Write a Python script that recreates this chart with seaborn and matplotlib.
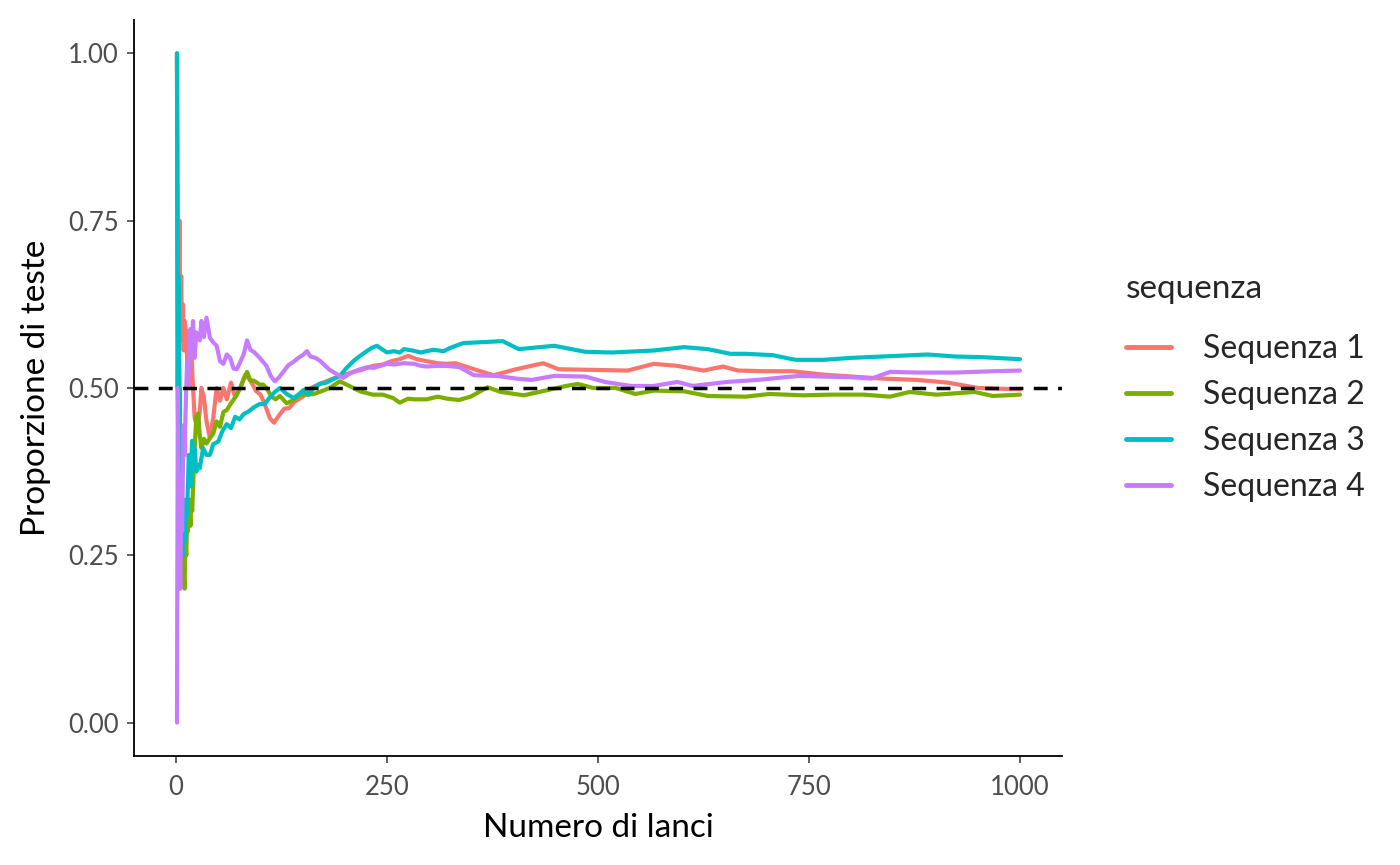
import pandas as pd
import matplotlib
matplotlib.use("Agg")
import matplotlib.pyplot as plt
import seaborn as sns

# Valori (proporzione cumulata di teste)
x_seq1 = [1, 2, 3, 4, 5, 6, 7, 8, 9, 10, 12, 14, 16, 18, 20, 22, 25, 28, 30, 33,
          36, 40, 44, 48, 52, 56, 60, 65, 70, 76, 82, 88, 95, 100, 105, 111, 116, 122, 128, 134,
          140, 150, 160, 170, 180, 190, 200, 210, 220, 233, 245, 255, 265, 275, 285, 297, 310, 320, 331, 353,
          376, 403, 435, 453, 494, 535, 566, 594, 625, 648, 666, 698, 730, 766, 801, 837, 878, 914, 950, 972,
          1000]
p_seq1 = [1.0, 0.5, 0.667, 0.75, 0.6, 0.667, 0.571, 0.625, 0.556, 0.6, 0.583, 0.5, 0.5, 0.556, 0.5, 0.455, 0.44, 0.464, 0.5, 0.485,
          0.45, 0.425, 0.455, 0.5, 0.481, 0.5, 0.483, 0.508, 0.486, 0.5, 0.52, 0.511, 0.495, 0.49, 0.476, 0.455, 0.448, 0.459, 0.469, 0.47,
          0.479, 0.487, 0.5, 0.506, 0.511, 0.516, 0.52, 0.524, 0.527, 0.533, 0.535, 0.54, 0.543, 0.548, 0.543, 0.54, 0.537, 0.536, 0.537, 0.528,
          0.519, 0.528, 0.537, 0.528, 0.527, 0.526, 0.536, 0.533, 0.526, 0.532, 0.526, 0.525, 0.525, 0.52, 0.517, 0.514, 0.512, 0.508, 0.5, 0.499,
          0.498]

x_seq2 = [1, 2, 3, 4, 5, 6, 7, 8, 9, 10, 11, 12, 13, 14, 15, 16, 17, 18, 19, 20,
          21, 22, 23, 24, 25, 26, 28, 30, 33, 36, 40, 44, 48, 52, 56, 60, 65, 70, 76, 80,
          84, 88, 92, 99, 103, 107, 113, 118, 123, 131, 139, 147, 155, 163, 170, 182, 194, 202, 210, 218,
          233, 245, 257, 265, 275, 282, 297, 310, 321, 335, 349, 369, 385, 412, 430, 462, 476, 494, 521, 544,
          566, 602, 630, 675, 703, 743, 775, 815, 846, 869, 901, 946, 968, 1000]
p_seq2 = [1.0, 0.5, 0.333, 0.5, 0.4, 0.333, 0.286, 0.25, 0.222, 0.2, 0.273, 0.25, 0.308, 0.286, 0.333, 0.313, 0.294, 0.333, 0.316, 0.35,
          0.381, 0.409, 0.435, 0.458, 0.44, 0.462, 0.429, 0.41, 0.424, 0.417, 0.425, 0.432, 0.45, 0.442, 0.464, 0.467, 0.477, 0.486, 0.5, 0.513,
          0.524, 0.511, 0.511, 0.505, 0.505, 0.5, 0.487, 0.483, 0.488, 0.477, 0.482, 0.49, 0.49, 0.491, 0.494, 0.5, 0.51, 0.505, 0.5, 0.495,
          0.49, 0.49, 0.485, 0.478, 0.484, 0.483, 0.483, 0.487, 0.484, 0.482, 0.487, 0.501, 0.494, 0.489, 0.494, 0.503, 0.506, 0.5, 0.5, 0.491,
          0.496, 0.495, 0.488, 0.487, 0.491, 0.489, 0.49, 0.49, 0.487, 0.494, 0.49, 0.494, 0.488, 0.49]

x_seq3 = [1, 2, 3, 4, 5, 6, 7, 8, 9, 10, 11, 12, 13, 14, 15, 16, 17, 18, 19, 20,
          22, 24, 26, 28, 32, 36, 40, 44, 50, 55, 60, 65, 70, 75, 80, 86, 92, 99, 105, 111,
          117, 123, 130, 139, 145, 151, 157, 163, 170, 178, 186, 194, 202, 210, 218, 226, 232, 238, 245, 250,
          258, 265, 270, 280, 290, 297, 305, 317, 325, 340, 387, 406, 448, 485, 517, 566, 602, 630, 657, 675,
          707, 734, 766, 801, 837, 891, 923, 955, 1000]
p_seq3 = [1.0, 0.5, 0.667, 0.5, 0.4, 0.333, 0.286, 0.25, 0.333, 0.3, 0.273, 0.333, 0.308, 0.357, 0.4, 0.375, 0.353, 0.389, 0.421, 0.4,
          0.409, 0.375, 0.385, 0.38, 0.41, 0.4, 0.4, 0.416, 0.42, 0.436, 0.446, 0.44, 0.457, 0.453, 0.461, 0.465, 0.471, 0.476, 0.476, 0.486,
          0.494, 0.5, 0.492, 0.485, 0.49, 0.497, 0.49, 0.5, 0.506, 0.508, 0.513, 0.518, 0.53, 0.54, 0.548, 0.555, 0.56, 0.563, 0.557, 0.553,
          0.555, 0.553, 0.558, 0.556, 0.553, 0.555, 0.557, 0.555, 0.56, 0.567, 0.57, 0.558, 0.563, 0.554, 0.553, 0.556, 0.561, 0.558, 0.551, 0.551,
          0.549, 0.542, 0.542, 0.545, 0.547, 0.55, 0.547, 0.546, 0.543]

x_seq4 = [1, 2, 3, 4, 5, 6, 7, 8, 9, 10, 11, 12, 13, 14, 15, 16, 17, 18, 19, 20,
          21, 22, 23, 24, 26, 28, 30, 33, 36, 40, 44, 48, 52, 56, 60, 64, 68, 72, 76, 80,
          84, 88, 92, 99, 107, 112, 117, 122, 127, 133, 139, 145, 151, 155, 159, 165, 170, 176, 182, 190,
          198, 204, 210, 218, 226, 234, 242, 250, 258, 270, 282, 290, 297, 310, 321, 336, 353, 380, 403, 421,
          448, 485, 508, 539, 566, 594, 612, 653, 689, 721, 739, 766, 801, 824, 846, 878, 923, 968, 1000]
p_seq4 = [0.0, 0.5, 0.333, 0.25, 0.2, 0.333, 0.286, 0.375, 0.444, 0.4, 0.455, 0.5, 0.538, 0.5, 0.533, 0.563, 0.588, 0.556, 0.579, 0.6,
          0.571, 0.545, 0.565, 0.583, 0.577, 0.571, 0.6, 0.576, 0.605, 0.575, 0.568, 0.563, 0.54, 0.536, 0.55, 0.545, 0.529, 0.528, 0.539, 0.55,
          0.571, 0.557, 0.554, 0.545, 0.533, 0.518, 0.51, 0.516, 0.524, 0.534, 0.539, 0.545, 0.55, 0.555, 0.547, 0.545, 0.541, 0.534, 0.527, 0.521,
          0.515, 0.52, 0.524, 0.528, 0.531, 0.53, 0.533, 0.536, 0.535, 0.537, 0.536, 0.533, 0.532, 0.533, 0.533, 0.531, 0.519, 0.518, 0.514, 0.512,
          0.518, 0.517, 0.509, 0.503, 0.503, 0.509, 0.503, 0.509, 0.512, 0.516, 0.518, 0.517, 0.516, 0.514, 0.524, 0.523, 0.523, 0.525, 0.526]

sequenze = ["Sequenza 1", "Sequenza 2", "Sequenza 3", "Sequenza 4"]
colori = ["#F8766D", "#7CAE00", "#00BFC4", "#C77CFF"]
x_ticks = [0, 250, 500, 750, 1000]
y_ticks = [0.00, 0.25, 0.50, 0.75, 1.00]

# Tabella lunga per seaborn
righe = []
for nome, xs, ps in zip(sequenze, [x_seq1, x_seq2, x_seq3, x_seq4], [p_seq1, p_seq2, p_seq3, p_seq4]):
    for x, p in zip(xs, ps):
        righe.append({"lancio": x, "proporzione": p, "sequenza": nome})
df = pd.DataFrame(righe)

sns.set_theme(style="ticks")
plt.rcParams["font.family"] = ["Lato", "DejaVu Sans"]

fig = plt.figure(figsize=(14, 8.65), dpi=100)
ax = fig.add_axes([0.0957, 0.126, 0.663, 0.851])

sns.lineplot(data=df, x="lancio", y="proporzione", hue="sequenza", hue_order=sequenze,
             palette=colori, linewidth=3.0, estimator=None, sort=False, ax=ax)
ax.axhline(0.5, color="black", linestyle=(0, (4.0, 3.0)), linewidth=2.5, zorder=5)

ax.set_xlim(-49.95, 1049.95)
ax.set_ylim(-0.05, 1.05)
ax.set_xticks(x_ticks)
ax.set_xticklabels([str(t) for t in x_ticks])
ax.set_yticks(y_ticks)
ax.set_yticklabels([f"{t:.2f}" for t in y_ticks])
ax.tick_params(axis="both", labelsize=18.5, colors="#333333", labelcolor="#4D4D4D",
               length=5, width=1.1, pad=6)
ax.tick_params(axis="x", pad=9)
sns.despine(ax=ax)
for s in ["left", "bottom"]:
    ax.spines[s].set_color("black")
    ax.spines[s].set_linewidth(1.3)

ax.set_xlabel("Numero di lanci", fontsize=24, color="black", labelpad=9)
ax.set_ylabel("Proporzione di teste", fontsize=24, color="black", labelpad=12)

leg = ax.legend(title="sequenza", loc="center left", bbox_to_anchor=(1.055, 0.5), frameon=False,
                fontsize=23, title_fontsize=24, handlelength=1.4, handletextpad=1.0,
                labelspacing=0.5, borderaxespad=0)
leg._legend_box.align = "left"
leg._legend_box.sep = 22
for l in leg.get_lines():
    l.set_linewidth(3.5)

fig.savefig("out.png", dpi=100)
